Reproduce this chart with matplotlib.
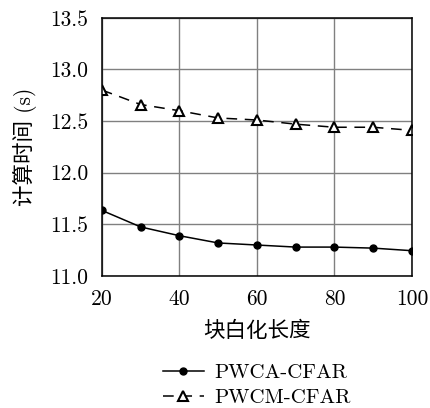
import numpy as np
import matplotlib
matplotlib.use('Agg')
import matplotlib.pyplot as plt

plt.rcParams['font.family'] = ['cmr10', 'Noto Sans CJK SC']
plt.rcParams['mathtext.fontset'] = 'cm'
plt.rcParams['axes.formatter.use_mathtext'] = True

# block whitening length
block_len = [20, 30, 40, 50, 60, 70, 80, 90, 100]
# computation time (s)
pwca = [11.635, 11.475, 11.39, 11.32, 11.30, 11.28, 11.28, 11.27, 11.245]
pwcm = [12.80, 12.66, 12.60, 12.53, 12.51, 12.47, 12.44, 12.44, 12.41]

xticks = [20, 40, 60, 80, 100]
yticks = [11.0, 11.5, 12.0, 12.5, 13.0, 13.5]

fig = plt.figure(figsize=(4.3, 4.08), dpi=100)
ax = fig.add_axes([0.237, 0.3235, 0.721, 0.633])

ax.plot(block_len, pwca, color='black', lw=1.1, marker='o', ms=5,
        label='PWCA-CFAR')
ax.plot(block_len, pwcm, color='black', lw=1.1, ls=(0, (7, 5)), marker='^',
        ms=7.5, mfc='white', mec='black', mew=1.5, label='PWCM-CFAR')

ax.set_xlim(20, 100)
ax.set_ylim(11.0, 13.5)
ax.set_xticks(xticks)
ax.set_yticks(yticks)
ax.set_xticklabels([str(v) for v in xticks])
ax.set_yticklabels(['%.1f' % v for v in yticks])
ax.tick_params(length=0, labelsize=15.5, pad=10)
ax.grid(True, color='#808080', lw=1.0)
ax.set_axisbelow(True)
for s in ax.spines.values():
    s.set_linewidth(1.1)

ax.set_xlabel('块白化长度', fontsize=15.5, labelpad=8)
ax.set_ylabel('计算时间 (s)', fontsize=15.5, labelpad=9)

ax.legend(loc='upper center', bbox_to_anchor=(0.5, -0.30), frameon=False,
          fontsize=15, handlelength=2.0, labelspacing=0.28, borderpad=0,
          handletextpad=0.5)

fig.savefig('out.png', dpi=100)
